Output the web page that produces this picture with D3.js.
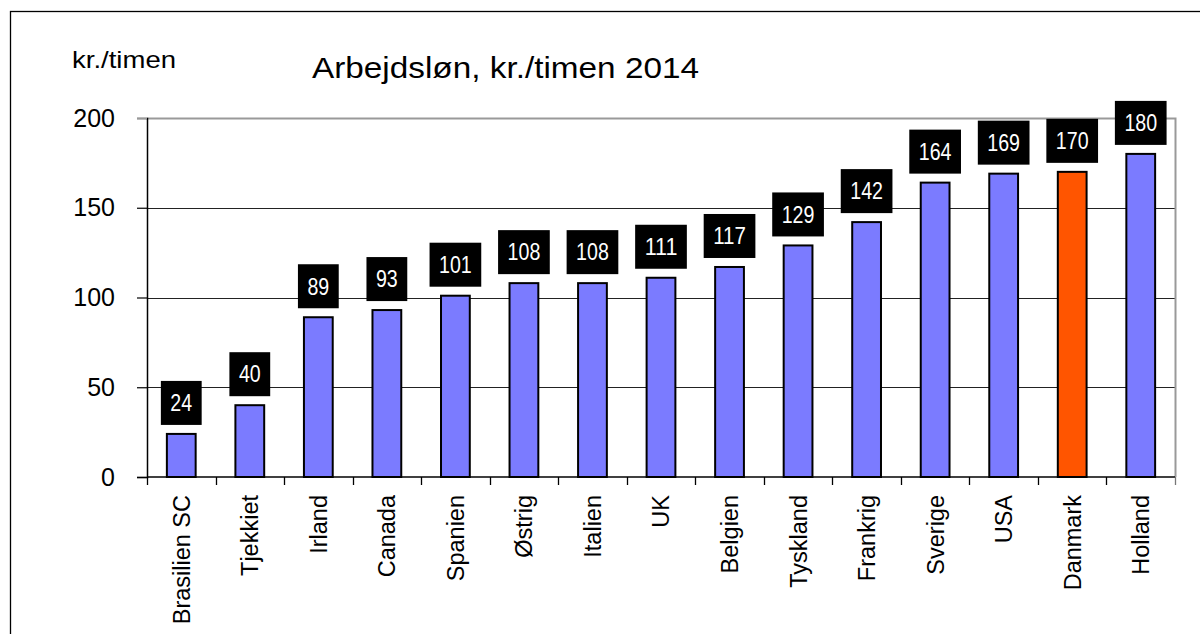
<!DOCTYPE html>
<html>
<head>
<meta charset="utf-8">
<script src="https://cdn.jsdelivr.net/npm/d3@7"></script>
<style>
  body { margin: 0; background: #fff; }
  svg { display: block; font-family: "Liberation Sans", Arial, sans-serif; }
</style>
</head>
<body>
<svg width="1200" height="634"></svg>
<script>
// data
var countries = ["Brasilien SC", "Tjekkiet", "Irland", "Canada", "Spanien", "Østrig", "Italien",
                 "UK", "Belgien", "Tyskland", "Frankrig", "Sverige", "USA", "Danmark", "Holland"];
var wages = [24, 40, 89, 93, 101, 108, 108, 111, 117, 129, 142, 164, 169, 170, 180];
var highlight = ["Danmark"];
var yTicks = [0, 50, 100, 150, 200];

var svg = d3.select("svg");
var margin = {top: 118, right: 25, bottom: 157, left: 147};
var width = 1200 - margin.left - margin.right,
    height = 634 - margin.top - margin.bottom;

// outer frame
svg.append("rect")
    .attr("x", 10.5).attr("y", 11.5)
    .attr("width", 1300).attr("height", 800)
    .attr("fill", "none")
    .attr("stroke", "#000")
    .attr("stroke-width", 1.3);

// titles (the original is slightly stretched horizontally)
svg.append("text")
    .attr("x", 72).attr("y", 68)
    .style("font-size", "24px")
    .attr("textLength", 104)
    .attr("lengthAdjust", "spacingAndGlyphs")
    .text("kr./timen");

svg.append("text")
    .attr("x", 312).attr("y", 78)
    .style("font-size", "30px")
    .attr("textLength", 387)
    .attr("lengthAdjust", "spacingAndGlyphs")
    .text("Arbejdsløn, kr./timen 2014");

var x = d3.scaleBand().domain(countries).range([0, width]).paddingInner(0).paddingOuter(0);
var y = d3.scaleLinear().domain([0, 200]).range([height, 0]);

var g = svg.append("g").attr("transform", "translate(" + margin.left + "," + margin.top + ")");

// gridlines
g.selectAll(".grid")
    .data(yTicks.filter(function(d) { return d > 0 && d < 200; }))
  .enter().append("line")
    .attr("x1", 0).attr("x2", width)
    .attr("y1", function(d) { return Math.round(y(d)) + 0.5; })
    .attr("y2", function(d) { return Math.round(y(d)) + 0.5; })
    .attr("stroke", "#222")
    .attr("stroke-width", 1.2);

// plot area border (top + right, gray)
g.append("path")
    .attr("d", "M0," + (y(200) + 0.5) + "H" + (width + 0.5) + "V" + height)
    .attr("fill", "none")
    .attr("stroke", "#999")
    .attr("stroke-width", 2);

// bars
var bw = x.bandwidth() * 0.42;
g.selectAll(".bar")
    .data(countries)
  .enter().append("rect")
    .attr("class", "bar")
    .attr("x", function(d) { return x(d) + (x.bandwidth() - bw) / 2; })
    .attr("y", function(d, i) { return y(wages[i]); })
    .attr("width", bw)
    .attr("height", function(d, i) { return height - y(wages[i]); })
    .attr("fill", function(d) { return highlight.indexOf(d) >= 0 ? "#FF5500" : "#7B7BFF"; })
    .attr("stroke", "#000")
    .attr("stroke-width", 2);

// y axis
var yAxis = g.append("g")
    .call(d3.axisLeft(y).tickValues(yTicks).tickSize(10).tickPadding(22));
yAxis.select(".domain").attr("stroke", "#000").attr("stroke-width", 1.5);
yAxis.selectAll(".tick line").attr("stroke", "#000").attr("stroke-width", 1.2);
yAxis.selectAll("text")
    .style("font-size", "25px")
    .style("font-family", "Liberation Sans, Arial, sans-serif")
    .attr("fill", "#000");
yAxis.selectAll(".tick").filter(function(d) { return d === 200; }).select("line").attr("stroke", "#999");

// x axis: ticks at band boundaries
var xAxis = g.append("g").attr("transform", "translate(0," + height + ")");
xAxis.append("line")
    .attr("x1", 0).attr("x2", width)
    .attr("stroke", "#000").attr("stroke-width", 1.5);
xAxis.selectAll(".xtick")
    .data(countries.concat(["end"]))
  .enter().append("line")
    .attr("x1", function(d, i) { return Math.round(i * x.step()) + 0.5; })
    .attr("x2", function(d, i) { return Math.round(i * x.step()) + 0.5; })
    .attr("y1", 0).attr("y2", 8)
    .attr("stroke", function(d, i) { return i === countries.length ? "#777" : "#000"; })
    .attr("stroke-width", 1.3);

xAxis.selectAll(".xlabel")
    .data(countries)
  .enter().append("text")
    .attr("transform", function(d) {
        return "translate(" + (x(d) + x.bandwidth() / 2) + ",18) rotate(-90)";
    })
    .attr("dy", "0.36em")
    .style("text-anchor", "end")
    .style("font-size", "23.5px")
    .text(function(d) { return d; });

// value labels in black boxes
var labels = g.selectAll(".vlabel")
    .data(countries)
  .enter().append("g")
    .attr("transform", function(d, i) {
        return "translate(" + (x(d) + x.bandwidth() / 2) + "," + (y(wages[i]) - 9 - 22) + ")";
    });

labels.append("rect").attr("fill", "#000");
labels.append("text")
    .attr("dy", "0.36em")
    .style("text-anchor", "middle")
    .style("font-size", "23px")
    .attr("fill", "#fff")
    .attr("textLength", function(d, i) { return String(wages[i]).length * 10.9; })
    .attr("lengthAdjust", "spacingAndGlyphs")
    .text(function(d, i) { return wages[i]; });

labels.each(function(d, i) {
    var w = String(wages[i]).length * 10.9 + 19;
    d3.select(this).select("rect")
        .attr("x", -w / 2).attr("y", -22)
        .attr("width", w).attr("height", 44);
});
</script>
</body>
</html>
